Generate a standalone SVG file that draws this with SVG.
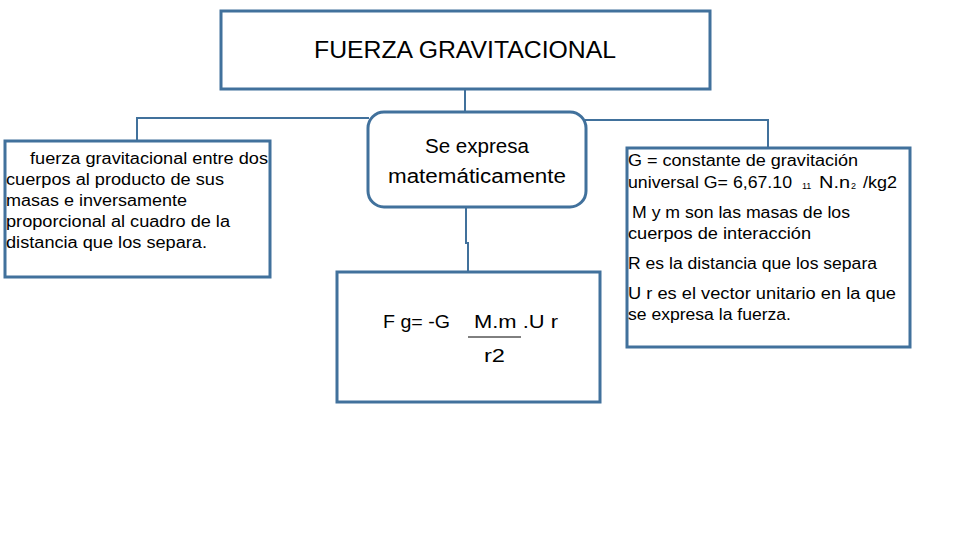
<svg xmlns="http://www.w3.org/2000/svg" width="960" height="540" viewBox="0 0 960 540">
<style>
.box{fill:#fff;stroke:#41719C;stroke-width:3}
.con{fill:none;stroke:#41719C;stroke-width:2}
text{font-family:"Liberation Sans",Arial,sans-serif;fill:#000}
.t16{font-size:16px}
.sub{font-size:9px}
</style>
<rect width="960" height="540" fill="#fff"/>
<g id="connectors">
<path class="con" d="M465 89 V112"/>
<path class="con" d="M137 141 V118 H369"/>
<path class="con" d="M585 120 H768 V148"/>
<path class="con" d="M466 207 V243 H468 V271"/>
</g>
<g id="title">
<rect class="box" x="221" y="11" width="489" height="78"/>
<text x="465" y="58" font-size="23" text-anchor="middle" textLength="302" lengthAdjust="spacingAndGlyphs">FUERZA GRAVITACIONAL</text>
</g>
<g id="definition">
<rect class="box" x="5" y="141" width="265" height="136"/>
<text class="t16" x="30" y="164" textLength="238" lengthAdjust="spacingAndGlyphs">fuerza gravitacional entre dos</text>
<text class="t16" x="6" y="185" textLength="218" lengthAdjust="spacingAndGlyphs">cuerpos al producto de sus</text>
<text class="t16" x="6" y="206" textLength="181" lengthAdjust="spacingAndGlyphs">masas e inversamente</text>
<text class="t16" x="6" y="227" textLength="224" lengthAdjust="spacingAndGlyphs">proporcional al cuadro de la</text>
<text class="t16" x="6" y="248" textLength="201" lengthAdjust="spacingAndGlyphs">distancia que los separa.</text>
</g>
<g id="expresa">
<rect class="box" x="368" y="112" width="218" height="95" rx="16" ry="16"/>
<text x="477" y="153" font-size="20" text-anchor="middle" textLength="104" lengthAdjust="spacingAndGlyphs">Se expresa</text>
<text x="477" y="183" font-size="20" text-anchor="middle" textLength="178" lengthAdjust="spacingAndGlyphs">matemáticamente</text>
</g>
<g id="formula">
<rect class="box" x="337" y="272" width="263" height="130"/>
<text x="383" y="328" font-size="19" textLength="67" lengthAdjust="spacingAndGlyphs">F g= -G</text>
<text x="474" y="328" font-size="19" textLength="84" lengthAdjust="spacingAndGlyphs">M.m .U r</text>
<line x1="468" y1="337" x2="521" y2="337" stroke="#000" stroke-width="1"/>
<text x="484" y="362" font-size="19" textLength="21" lengthAdjust="spacingAndGlyphs">r2</text>
</g>
<g id="variables">
<rect class="box" x="627" y="148" width="283" height="199"/>
<text class="t16" x="628" y="166" textLength="230" lengthAdjust="spacingAndGlyphs">G = constante de gravitación</text>
<text class="t16" x="628" y="188" textLength="164" lengthAdjust="spacingAndGlyphs">universal G= 6,67.10</text>
<text class="sub" x="802" y="189">11</text>
<text class="t16" x="819" y="188" textLength="31" lengthAdjust="spacingAndGlyphs">N.n</text>
<text class="sub" x="851" y="189">2</text>
<text class="t16" x="863" y="188" textLength="34" lengthAdjust="spacingAndGlyphs">/kg2</text>
<text class="t16" x="632" y="218" textLength="218" lengthAdjust="spacingAndGlyphs">M y m son las masas de los</text>
<text class="t16" x="628" y="239" textLength="183" lengthAdjust="spacingAndGlyphs">cuerpos de interacción</text>
<text class="t16" x="628" y="269" textLength="249" lengthAdjust="spacingAndGlyphs">R es la distancia que los separa</text>
<text class="t16" x="628" y="299" textLength="268" lengthAdjust="spacingAndGlyphs">U r es el vector unitario en la que</text>
<text class="t16" x="628" y="320" textLength="163" lengthAdjust="spacingAndGlyphs">se expresa la fuerza.</text>
</g>
</svg>
